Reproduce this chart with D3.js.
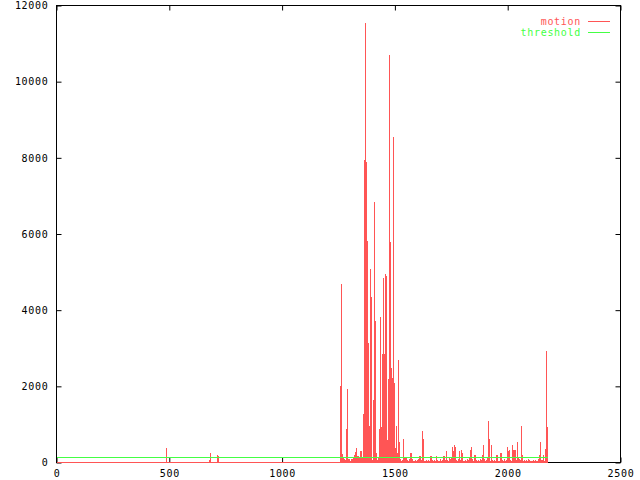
<!DOCTYPE html>
<meta charset="utf-8">
<style>
    body { margin: 0; background: #fff; }
    text { font-family: "DejaVu Sans Mono", monospace; font-size: 10px; letter-spacing: 0.7px; }
    .tick line { stroke: #000; }
</style>
<svg width="640" height="480"></svg>
<script src="https://d3js.org/d3.v7.min.js"></script>
<script>

    // frame numbers and motion values
    var frames = [
        486, 676, 680, 711, 716,
        1257,1261,1266,1270,1275,1279,1284,1288,1292,1297,
        1301,1305,1310,1314,1319,1323,1328,1332,1336,1341,
        1346,1350,1355,1359,1364,1368,1373,1377,1381,1386,
        1390,1394,1399,1403,1408,1412,1417,1421,1425,1430,
        1434,1438,1443,1447,1452,1456,1461,1465,1469,1474,
        1479,1483,1488,1492,1497,1501,1506,1510,1514,1519,
        1523,1527,1532,1536,1541,1545,1550,1554,1558,1563,
        1567,1571,1576,1580,1585,1589,1594,1598,1602,1607,
        1612,1616,1621,1625,1630,1634,1639,1643,1647,1652,
        1656,1660,1665,1669,1674,1678,1683,1687,1691,1696,
        1700,1704,1709,1713,1718,1722,1727,1731,1735,1740,
        1745,1749,1754,1758,1763,1767,1772,1776,1780,1785,
        1789,1793,1798,1802,1807,1811,1816,1820,1824,1829,
        1833,1837,1842,1846,1851,1855,1860,1864,1868,1873,
        1878,1882,1887,1891,1896,1900,1905,1909,1913,1918,
        1922,1926,1931,1935,1940,1944,1949,1953,1957,1962,
        1966,1970,1975,1979,1984,1988,1993,1997,2001,2006,
        2011,2015,2020,2024,2029,2033,2038,2042,2046,2051,
        2055,2059,2064,2068,2073,2077,2082,2086,2090,2095,
        2099,2103,2108,2112,2117,2121,2126,2130,2134,2139,
        2144,2148,2153,2157,2162,2166,2171,2175
    ];
    var motion = [
        370, 60, 260, 210, 160,
        2000,4700,230,150,80,60,870,1940,90,100,
        40,80,90,150,200,280,370,180,170,120,
        300,300,120,1280,7950,11550,7880,5820,3140,960,
        5090,4350,60,1630,6830,3720,250,60,120,870,
        3830,930,2840,4850,2840,4950,4900,580,2200,10690,
        5800,2470,2210,8540,2080,380,970,250,2680,530,
        80,40,60,630,140,150,120,60,30,80,
        240,240,90,50,30,70,40,60,90,180,
        180,60,840,630,50,40,70,30,60,40,
        180,180,60,30,70,40,170,60,30,50,
        80,40,70,170,170,60,290,60,40,110,
        90,130,420,290,450,420,60,30,80,290,
        60,320,260,50,30,70,40,80,60,120,
        340,420,80,50,190,210,60,30,70,40,
        90,60,210,450,80,40,60,120,1090,630,
        40,450,60,30,70,40,210,210,50,30,
        240,240,60,40,80,30,60,400,300,320,
        60,40,450,320,320,330,60,550,120,80,
        60,950,200,40,70,30,60,40,80,60,
        30,50,40,70,30,60,40,50,90,200,
        550,70,60,200,30,350,2920,920
    ];
    var lastFrame = 2179;
    var threshold = 100;
    var xTicks = [0, 500, 1000, 1500, 2000, 2500];
    var yTicks = [0, 2000, 4000, 6000, 8000, 10000, 12000];
    var seriesNames = ["motion", "threshold"];

    var red = "#ff5555", green = "#44ff44";

    var svg = d3.select("svg"),
        pLeft = 56.5, pRight = 620.5, pTop = 5.5, pBottom = 462.5;

    var x = d3.scaleLinear().domain([0, 2500]).range([pLeft, pRight]),
        y = d3.scaleLinear().domain([0, 12000]).range([pBottom, pTop]);

    // axes, ticks inward and mirrored
    svg.append("g")
        .attr("transform", "translate(0," + pBottom + ")")
        .call(d3.axisBottom(x).tickValues(xTicks).tickSize(-5).tickPadding(7).tickFormat(d3.format("d")))
        .call(function(g) { g.select(".domain").remove(); });
    svg.append("g")
        .attr("transform", "translate(0," + pTop + ")")
        .call(d3.axisTop(x).tickValues(xTicks).tickSize(-5).tickFormat(""))
        .call(function(g) { g.select(".domain").remove(); });
    svg.append("g")
        .attr("transform", "translate(" + pLeft + ",0)")
        .call(d3.axisLeft(y).tickValues(yTicks).tickSize(-5).tickPadding(8).tickFormat(d3.format("d")))
        .call(function(g) { g.select(".domain").remove(); });
    svg.append("g")
        .attr("transform", "translate(" + pRight + ",0)")
        .call(d3.axisRight(y).tickValues(yTicks).tickSize(-5).tickFormat(""))
        .call(function(g) { g.select(".domain").remove(); });

    svg.selectAll(".tick text").attr("fill", "#000");

    svg.append("rect")
        .attr("x", pLeft).attr("y", pTop)
        .attr("width", pRight - pLeft).attr("height", pBottom - pTop)
        .attr("fill", "none").attr("stroke", "#000");

    // motion columns
    var span = 4.4;
    svg.append("g").selectAll("rect")
        .data(frames.map(function(f, i) { return {f: f, v: motion[i]}; }))
        .enter().append("rect")
        .attr("x", function(d) { return Math.round(x(d.f)); })
        .attr("y", function(d) { return Math.round(y(d.v)); })
        .attr("width", function(d) { return Math.max(1, Math.round(x(d.f + span)) - Math.round(x(d.f))); })
        .attr("height", function(d) { return Math.round(pBottom) - Math.round(y(d.v)); })
        .attr("fill", red)
        .attr("shape-rendering", "crispEdges");

    svg.append("line")
        .attr("x1", x(0)).attr("x2", x(lastFrame))
        .attr("y1", y(0) - 0.5).attr("y2", y(0) - 0.5)
        .attr("stroke", red).attr("shape-rendering", "crispEdges");

    svg.append("line")
        .attr("x1", x(0)).attr("x2", x(lastFrame))
        .attr("y1", Math.floor(y(threshold)) - 0.5).attr("y2", Math.floor(y(threshold)) - 0.5)
        .attr("stroke", green).attr("shape-rendering", "crispEdges");

    // legend
    var legend = svg.append("g").selectAll("g")
        .data(seriesNames)
        .enter().append("g")
        .attr("transform", function(d, i) { return "translate(0," + (21.5 + i * 11) + ")"; });
    legend.append("text")
        .attr("x", 581).attr("dy", "0.35em")
        .attr("text-anchor", "end")
        .attr("fill", function(d, i) { return i ? green : red; })
        .text(function(d) { return d; });
    legend.append("line")
        .attr("x1", 588).attr("x2", 610)
        .attr("stroke", function(d, i) { return i ? green : red; });

</script>
